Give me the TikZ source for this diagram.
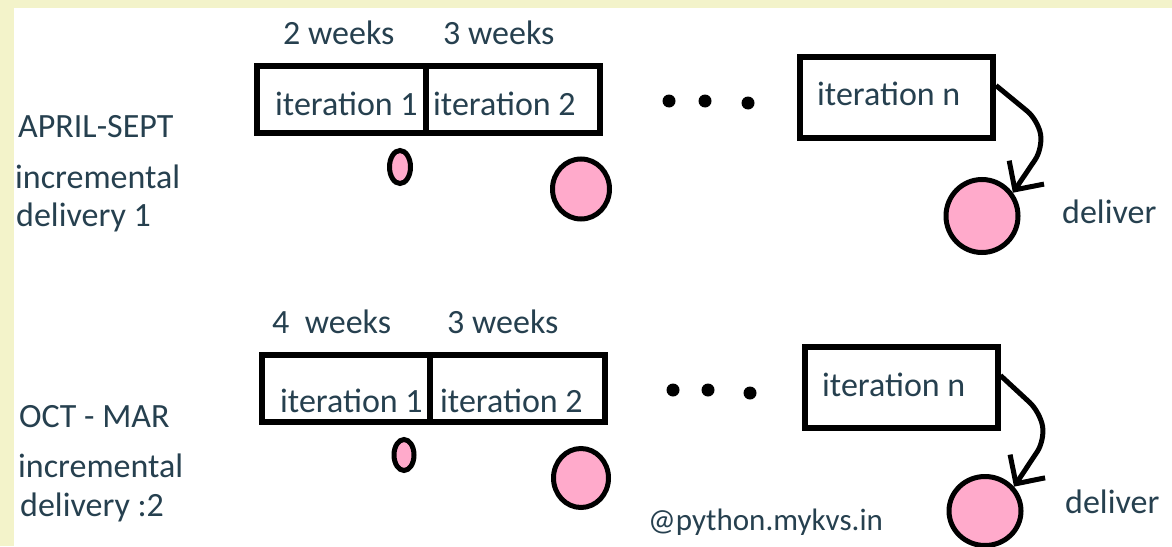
\documentclass[tikz,border=0pt]{standalone}
\usepackage{fontspec}
\setmainfont{Carlito}
\usetikzlibrary{arrows.meta,shapes.geometric}
\definecolor{txt}{HTML}{26404F}
\definecolor{pinkfill}{HTML}{FFAACB}
\definecolor{framecol}{HTML}{F3F3CA}

\begin{document}
\begin{tikzpicture}[x=1pt,y=-1pt,
  lbl/.style={anchor=base west, inner sep=0pt, text=txt, font=\fontsize{34}{40}\selectfont},
  cell/.style={draw=black, line width=6pt, minimum width=#1, minimum height=67pt, inner sep=0pt},
  ncell/.style={draw=black, line width=6pt, minimum width=193pt, minimum height=81pt, inner sep=0pt},
  blob/.style args={#1x#2}{ellipse, draw=black, fill=pinkfill, line width=5pt,
    minimum width=#1, minimum height=#2, inner sep=0pt},
  dotmark/.style={circle, fill=black, minimum size=13pt, inner sep=0pt},
  conn/.style={draw=black, line width=5pt, line join=round, rounded corners=14pt,
    -{Straight Barb[length=21pt,width=42pt,line width=5pt]}}
]
% page and its pale frame
\fill[framecol] (0,0) rectangle (1172,546);
\fill[white] (14,8) rectangle (1172,546);
\useasboundingbox (0,0) rectangle (1172,546);

% ---------- first half-year ----------
\node[lbl] (w1) at (283,44) {2 weeks};
\node[lbl] (w2) at (443,44) {3 weeks};

\node[cell=169pt] (a1) at (341.5,99.5) {};
\node[cell=174pt] (a2) at (513,99.5) {};
\node[lbl] (ta1) at (275,115) {iteration 1};
\node[lbl] (ta2) at (433,115) {iteration 2};

\node[dotmark] (ad1) at (669,101) {};
\node[dotmark] (ad2) at (705,101) {};
\node[dotmark] (ad3) at (748,103) {};

\node[ncell] (an) at (896.5,97.5) {};
\node[lbl] (tan) at (817,105) {iteration n};

\node[blob=21ptx33pt] (ae1) at (400,167) {};
\node[blob=57ptx60pt] (ae2) at (581,189) {};
\node[blob=72ptx73pt] (ae3) at (982,216) {};

\draw[conn] ([yshift=12pt]an.east) -- (1038,120) -- (1043,148) -- (ae3.37);

\node[lbl] (adel) at (1062,223) {deliver};

\node[lbl] (aper) at (18,137) {APRIL-SEPT};
\node[lbl] (ainc) at (15,188) {incremental};
\node[lbl] (adl) at (16,226) {delivery 1};

% ---------- second half-year ----------
\node[lbl] (v1) at (272,333) {4\ \ weeks};
\node[lbl] (v2) at (447,333) {3 weeks};

\node[cell=168.5pt] (b1) at (345.75,388.5) {};
\node[cell=175pt] (b2) at (517.5,388.5) {};
\node[lbl] (tb1) at (280,412) {iteration 1};
\node[lbl] (tb2) at (440,412) {iteration 2};

\node[dotmark] (bd1) at (673,390) {};
\node[dotmark] (bd2) at (708,390) {};
\node[dotmark] (bd3) at (750,393) {};

\node[ncell] (bn) at (901,387.5) {};
\node[lbl] (tbn) at (822,396) {iteration n};

\node[blob=20ptx31pt] (be1) at (404,455) {};
\node[blob=55ptx59pt] (be2) at (581,478) {};
\node[blob=72ptx69pt] (be3) at (985,511) {};

\draw[conn] ([yshift=12pt]bn.east) -- (1040,412) -- (1045,440) -- (be3.40);

\node[lbl] (bdel) at (1065,513) {deliver};
\node[lbl, font=\fontsize{31}{37}\selectfont] (site) at (648,530) {@python.mykvs.in};

\node[lbl] (bper) at (19,427) {OCT - MAR};
\node[lbl] (binc) at (18,477) {incremental};
\node[lbl] (bdl) at (20,516) {delivery :2};
\end{tikzpicture}
\end{document}
